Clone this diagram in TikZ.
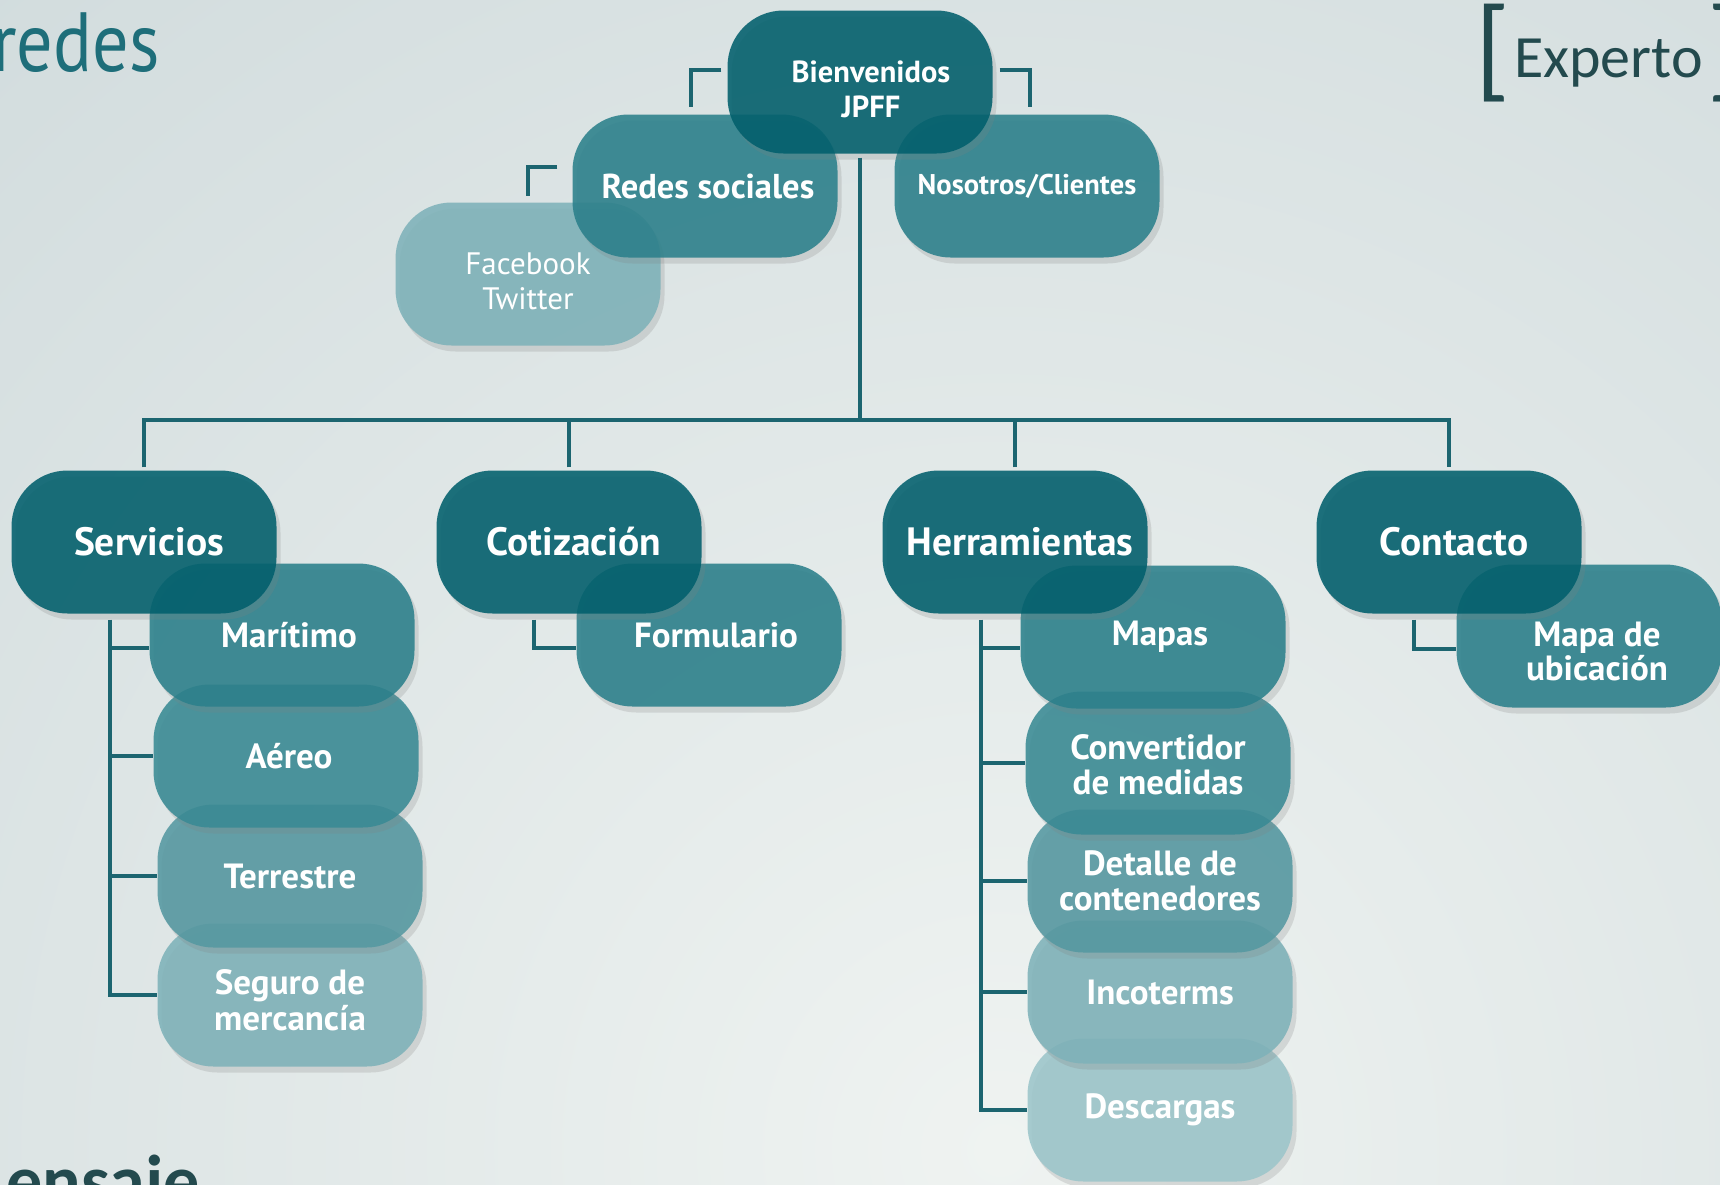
\documentclass[tikz,border=0pt]{standalone}
\usepackage{fontspec}
\setmainfont{PT Sans}
\newfontfamily\calib{Carlito}
\newfontfamily\titfont[FakeStretch=0.86]{PT Sans}
\usetikzlibrary{shadows}

\definecolor{bgin}{HTML}{EFF3F1}
\definecolor{bgout}{HTML}{BCCBCF}
\definecolor{linec}{HTML}{1C6570}
\definecolor{cdark}{HTML}{015F6C}
\definecolor{cmed}{HTML}{2B808B}
\definecolor{cmed2}{HTML}{398A94}
\definecolor{clight}{HTML}{5598A1}
\definecolor{cpale}{HTML}{7EB2B9}
\definecolor{cpaler}{HTML}{9CC5CA}
\definecolor{ctitle}{HTML}{1E6E7A}
\definecolor{cexp}{HTML}{234A4E}

% texto de dos lineas, bajado un poco
\newcommand\lineas[2][0pt]{\raisebox{#1}[\height][\depth]{\begin{tabular}{@{}c@{}}#2\end{tabular}}}

\tikzset{
  box/.style={rectangle, rounded corners=56pt, minimum width=265pt, minimum height=143pt,
    inner sep=0pt, align=center, text=white, fill opacity=.88, text opacity=1,
    drop shadow={opacity=.22, shadow xshift=4pt, shadow yshift=-6pt}},
  mainbox/.style={box, fill=cdark, font=\fontsize{39.5}{42}\selectfont\bfseries, textright=10pt},
  subbox/.style={box, fill=#1, font=\fontsize{35}{35}\selectfont\bfseries},
  textright/.style={execute at begin node=\hspace*{#1}},
  link/.style={draw=linec, line width=4.5pt}
}

\begin{document}
\begin{tikzpicture}[x=1pt, y=-1pt]
	\useasboundingbox (0,0) rectangle (1720,1184);
	\clip (0,0) rectangle (1720,1184);
	\shade[inner color=bgin, outer color=bgout] (1000,1150) circle (2700pt);

	% titles
	\node[anchor=base west, inner sep=0, text=ctitle, font=\titfont\fontsize{84}{84}\selectfont] (titulo) at (-8,71) {redes};
	\node[anchor=base west, inner sep=0, text=cexp, font=\calib\fontsize{114}{114}\selectfont] (lbr) at (1475,86) {[};
	\node[anchor=base west, inner sep=0, text=cexp, font=\calib\fontsize{60}{60}\selectfont] (experto) at (1514,77) {Experto};
	\node[anchor=base west, inner sep=0, text=cexp, font=\calib\fontsize{114}{114}\selectfont] (rbr) at (1707,86) {]};
	\node[anchor=base west, inner sep=0, text=cexp, font=\calib\bfseries\fontsize{72}{72}\selectfont] (mensaje) at (6,1205) {ensaje};

	% top
	\node[subbox=cpale, font=\fontsize{31}{35}\selectfont] (face) at (528,274) {\lineas[-11pt]{Facebook\\Twitter}};
	\node[subbox=cmed, font=\fontsize{34.5}{36}\selectfont\bfseries, textright=6pt] (redes) at (705,186) {Redes sociales};
	\node[subbox=cmed, font=\fontsize{28.5}{30}\selectfont\bfseries] (nos) at (1027,186) {Nosotros/Clientes};
	\node[mainbox, font=\fontsize{30.5}{35}\selectfont\bfseries, textright=12pt] (bien) at (860,82) {\lineas[-11pt]{Bienvenidos\\JPFF}};

	% columnas
	\node[subbox=cpale] (seguro) at (290,995) {\lineas[-10pt]{Seguro de\\mercancía}};
	\node[subbox=clight] (terre) at (290,876) {Terrestre};
	\node[subbox=cmed2, textright=6pt] (aereo) at (286,756) {Aéreo};
	\node[subbox=cmed, textright=14pt] (mari) at (282,635) {Marítimo};
	\node[mainbox] (serv) at (144,542) {Servicios};

	\node[subbox=cmed, textright=14pt] (form) at (709,635) {Formulario};
	\node[mainbox] (coti) at (569,542) {Cotización};

	\node[subbox=cpaler] (desc) at (1160,1110) {Descargas};
	\node[subbox=cpale] (inco) at (1160,992) {Incoterms};
	\node[subbox=clight] (deta) at (1160,881) {\lineas[-5pt]{Detalle de\\contenedores}};
	\node[subbox=cmed2] (conv) at (1158,763) {\lineas[-7pt]{Convertidor\\de medidas}};
	\node[subbox=cmed, textright=14pt] (mapas) at (1153,637) {Mapas};
	\node[mainbox] (herr) at (1015,542) {Herramientas};

	\node[subbox=cmed, font=\fontsize{35}{32}\selectfont\bfseries, textright=16pt] (ubic) at (1589,636) {\lineas[-20pt]{Mapa de\\ubicación}};
	\node[mainbox] (cont) at (1449,542) {Contacto};

	% conectores
	\coordinate (bus) at (860,420);
	\draw[link] ([shift={(-6pt,12pt)}]bien.west) -| ([shift={(-14pt,7pt)}]redes.north);
	\draw[link] ([shift={(7pt,12pt)}]bien.east) -| ([shift={(3pt,7pt)}]nos.north);
	\draw[link] ([shift={(-15pt,19pt)}]redes.west) -| ([yshift=6pt]face.north);
	\draw[link] ([yshift=-4pt]bien.south) -- (bus);
	\draw[link] ([yshift=3pt]serv.north) |- (bus) -| ([yshift=3pt]cont.north);
	\draw[link] ([yshift=3pt]coti.north) -- (coti.north |- bus);
	\draw[link] ([yshift=3pt]herr.north) -- (herr.north |- bus);

	\coordinate (st) at ([shift={(-34pt,-6pt)}]serv.south);
	\coordinate (m1) at ([yshift=-13pt]mari.west);
	\draw[link] (st) |- (seguro.west);
	\draw[link] (st |- m1) -- (m1);
	\foreach \n in {aereo,terre} {\draw[link] (st |- \n.west) -- (\n.west);}

	\coordinate (ht) at ([shift={(-34pt,-6pt)}]herr.south);
	\coordinate (m2) at ([yshift=-11pt]mapas.west);
	\draw[link] (ht) |- (desc.west);
	\draw[link] (ht |- m2) -- (m2);
	\foreach \n in {conv,deta,inco} {\draw[link] (ht |- \n.west) -- (\n.west);}

	\draw[link] ([shift={(-35pt,-6pt)}]coti.south) |- ([yshift=-13pt]form.west);
	\draw[link] ([shift={(-35pt,-6pt)}]cont.south) |- ([yshift=-13pt]ubic.west);
\end{tikzpicture}
\end{document}
